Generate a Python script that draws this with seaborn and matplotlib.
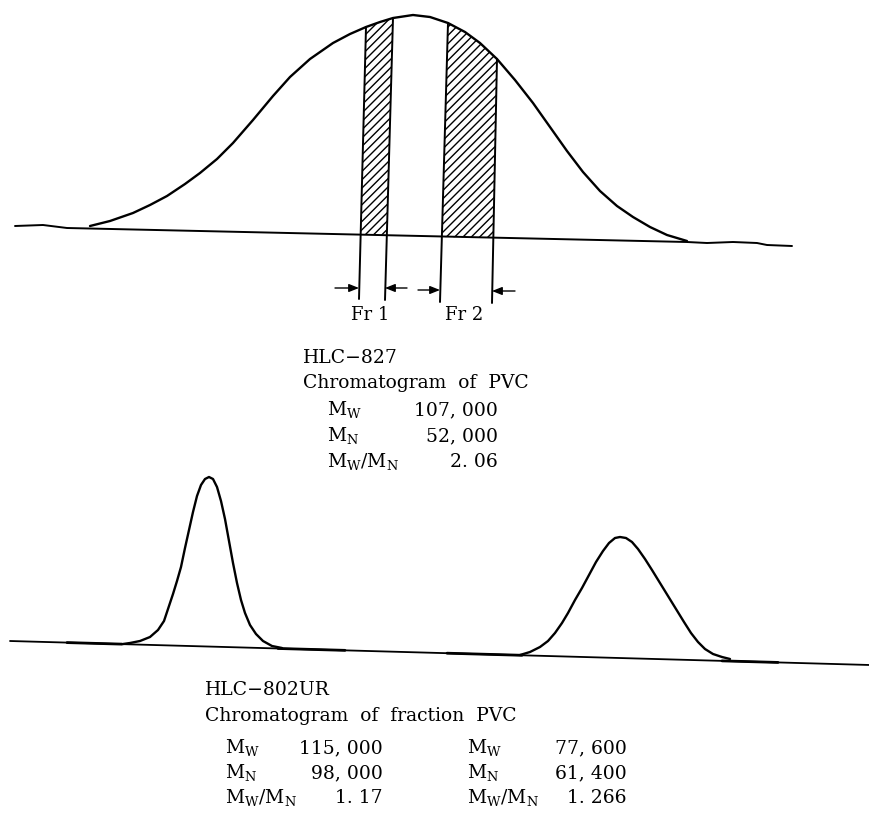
import numpy as np
import pandas as pd
import matplotlib
matplotlib.use("Agg")
import matplotlib.pyplot as plt
import seaborn as sns

# ---------------- data (pixel coordinates, y down) ----------------
# Top chromatogram (HLC-827, whole PVC)
top_curve_x = [90, 110, 133, 150, 167, 185, 200, 217, 233, 253, 273, 290, 310, 333, 350,
               366, 380, 393, 413, 430, 448, 465, 480, 497, 515, 533, 550, 567, 583, 600,
               617, 633, 650, 667, 687]
top_curve_y = [226, 221, 213, 205, 196, 184, 173, 159, 143, 120, 96, 77, 59, 43, 34,
               27, 22, 18, 15, 17, 23, 32, 43, 59, 80, 103, 127, 151, 172, 191,
               206, 217, 227, 235, 241]
top_base_x = [15, 43, 67, 687, 707, 733, 757, 767, 792]
top_base_y = [226, 225, 228, 242, 243, 242, 243, 245, 246]

# Fractions (hatched strips): polygon corners
fr1_x = [366, 380, 393, 387, 361]
fr1_y = [27, 22, 18, 235, 234]
fr2_x = [448, 465, 480, 497, 493, 442]
fr2_y = [23, 32, 43, 59, 238, 237]
# strip boundary lines (top -> bottom)
strip_lines = [((366, 27), (359, 299)), ((393, 18), (385, 300)),
               ((448, 23), (440, 302)), ((497, 59), (492, 303))]
# arrows (tail -> head)
arrows = [((335, 288), (359, 288)), ((407, 288), (385, 288)),
          ((418, 290), (440, 290)), ((515, 291), (492, 291))]
fr_labels = ["Fr 1", "Fr 2"]
fr_label_x = [351, 445]
fr_label_y = [320, 320]

# Bottom chromatogram (HLC-802UR, fractions)
peak1_x = [123, 130, 140, 150, 158, 164, 169, 173, 177, 181, 185, 189, 193, 197, 201, 205,
           209, 213, 217, 221, 225, 229, 233, 237, 241, 245, 250, 256, 263, 272, 282]
peak1_y = [644, 643, 641, 637, 630, 621, 606, 594, 581, 567, 548, 530, 512, 496, 485, 479,
           477, 479, 487, 501, 519, 541, 563, 583, 600, 613, 625, 634, 641, 646, 648]
peak2_x = [520, 530, 540, 548, 555, 562, 568, 575, 582, 589, 596, 603, 609, 615, 620,
           626, 632, 638, 645, 652, 660, 668, 676, 684, 691, 698, 705, 713, 722, 730]
peak2_y = [655, 652, 647, 641, 633, 623, 613, 600, 588, 575, 562, 551, 543, 538, 537,
           538, 542, 549, 559, 570, 583, 596, 609, 622, 633, 642, 649, 654, 657, 659]
bot_base_x = [10, 870]
bot_base_y = [641, 665]
base_marks = [(67, 122), (278, 345), (447, 522), (722, 778)]

# Text blocks
top_title = ["HLC\u2212827", "Chromatogram  of  PVC"]
names = ["M$_\\mathregular{W}$", "M$_\\mathregular{N}$", "M$_\\mathregular{W}$/M$_\\mathregular{N}$"]
top_values = ["107, 000", "52, 000", "2. 06"]
bot_title = ["HLC\u2212802UR", "Chromatogram  of  fraction  PVC"]
bot_values_1 = ["115, 000", "98, 000", "1. 17"]
bot_values_2 = ["77, 600", "61, 400", "1. 266"]

# ---------------- drawing ----------------
sns.set_theme(style="white")
plt.rcParams["font.family"] = ["DejaVu Serif"]
plt.rcParams["mathtext.fontset"] = "dejavuserif"
plt.rcParams["hatch.linewidth"] = 1.0

fig = plt.figure(figsize=(8.7, 8.15), dpi=100)
ax = fig.add_axes([0, 0, 1, 1])
ax.set_xlim(0, 870)
ax.set_ylim(815, 0)
ax.axis("off")

lw = 1.7
k = "black"

def line(xs, ys, w=lw):
    sns.lineplot(x=xs, y=ys, ax=ax, color=k, linewidth=w, sort=False,
                 estimator=None, legend=False, solid_joinstyle="round",
                 solid_capstyle="round")

line(top_curve_x, top_curve_y)
line(top_base_x, top_base_y, 1.4)

for px, py in [(fr1_x, fr1_y), (fr2_x, fr2_y)]:
    ax.fill(px, py, facecolor="none", edgecolor=k, hatch="////", linewidth=0)

for (x0, y0), (x1, y1) in strip_lines:
    line([x0, x1], [y0, y1], 1.4)

for (tx, ty), (hx, hy) in arrows:
    ax.annotate("", xy=(hx, hy), xytext=(tx, ty),
                arrowprops=dict(arrowstyle="-|>,head_length=0.5,head_width=0.2",
                                color=k, lw=1.0, shrinkA=0, shrinkB=0))

for lab, lx, ly in zip(fr_labels, fr_label_x, fr_label_y):
    ax.text(lx, ly, lab, fontsize=13, va="baseline", ha="left", color=k)

line(peak1_x, peak1_y)
line(peak2_x, peak2_y)
line(bot_base_x, bot_base_y, 1.3)
slope = (bot_base_y[1] - bot_base_y[0]) / (bot_base_x[1] - bot_base_x[0])
for a, b in base_marks:
    line([a, b], [bot_base_y[0] + slope * (a - bot_base_x[0]),
                  bot_base_y[0] + slope * (b - bot_base_x[0])], 2.0)

fs = 13.5
# top text block
ax.text(303, 363, top_title[0], fontsize=fs, va="baseline", color=k)
ax.text(303, 388, top_title[1], fontsize=fs, va="baseline", color=k)
for i, (n, v) in enumerate(zip(names, top_values)):
    yb = 415 + i * 26
    ax.text(327, yb, n, fontsize=fs, va="baseline", color=k)
    ax.text(498, yb, v, fontsize=fs, va="baseline", ha="right", color=k)

# bottom text block
ax.text(205, 695, bot_title[0], fontsize=fs, va="baseline", color=k)
ax.text(205, 721, bot_title[1], fontsize=fs, va="baseline", color=k)
for i in range(3):
    yb = 753 + i * 25
    ax.text(225, yb, names[i], fontsize=fs, va="baseline", color=k)
    ax.text(383, yb, bot_values_1[i], fontsize=fs, va="baseline", ha="right", color=k)
    ax.text(467, yb, names[i], fontsize=fs, va="baseline", color=k)
    ax.text(627, yb, bot_values_2[i], fontsize=fs, va="baseline", ha="right", color=k)

fig.savefig("out.png", dpi=100, facecolor="white")
